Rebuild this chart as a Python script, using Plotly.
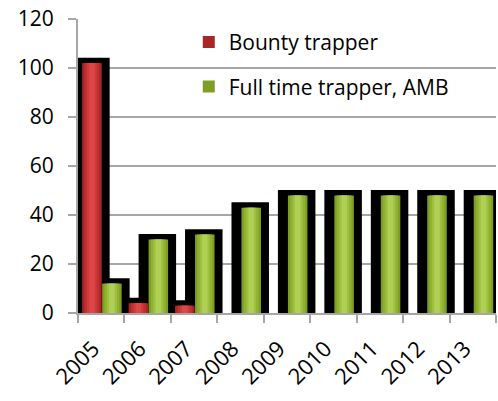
import plotly.graph_objects as go

years = ["2005", "2006", "2007", "2008", "2009", "2010", "2011", "2012", "2013"]
bounty = [102, 4, 3, None, None, None, None, None, None]
fulltime = [12, 30, 32, 43, 48, 48, 48, 48, 48]

name_bounty = "Bounty trapper"
name_full = "Full time trapper, AMB"

FONT = "Open Sans"
BAR_W = 0.42
RED_OFF = -0.41
GREEN_OFF = 0.02
SH_L = 0.2155   # black shadow extension left (category units)
SH_R = 0.172    # black shadow extension right
SH_T = 2.2      # black shadow extension on top (value units)

red_shades = ["#a82626", "#c03030", "#d03a3a", "#dc4848"]
green_shades = ["#7e9f24", "#90b232", "#a0c042", "#b0cf55"]

fig = go.Figure()

def shadow(vals, off, group):
    sv = [None if v is None else v + SH_T for v in vals]
    fig.add_trace(go.Bar(
        x=years, y=sv, offset=off - SH_L, width=BAR_W + SH_L + SH_R,
        marker=dict(color="black", line=dict(width=0)),
        showlegend=False, hoverinfo="skip", legendgroup=group))

def filled(vals, off, shades, name, group):
    fracs = [(0.0, 1.0), (0.12, 0.76), (0.25, 0.5), (0.36, 0.28)]
    for i, (f0, fw) in enumerate(fracs):
        fig.add_trace(go.Bar(
            x=years, y=vals, offset=off + f0 * BAR_W, width=fw * BAR_W,
            marker=dict(color=shades[i], line=dict(width=0)),
            name=name, showlegend=(i == 0), legendgroup=group,
            hoverinfo="skip" if i else None))

shadow(bounty, RED_OFF, "b")
shadow(fulltime, GREEN_OFF, "f")
filled(bounty, RED_OFF, red_shades, name_bounty, "b")
filled(fulltime, GREEN_OFF, green_shades, name_full, "f")

fig.update_layout(
    width=498, height=401,
    margin=dict(l=78, r=2, t=19, b=88, autoexpand=False),
    barmode="overlay",
    paper_bgcolor="white", plot_bgcolor="white",
    font=dict(family=FONT, size=21, color="black"),
    showlegend=True,
    legend=dict(x=0.265, y=0.99, xanchor="left", yanchor="top",
                bgcolor="rgba(0,0,0,0)", font=dict(size=21, family=FONT),
                tracegroupgap=14, itemwidth=30),
    xaxis=dict(type="category", range=[-0.5, 8.5], tickangle=-45,
               tickvals=years, ticktext=[y + "\u00a0\u00a0" for y in years],
               automargin=False, ticklabelstandoff=4,
               showline=True, linecolor="#a6a6a6", linewidth=2,
               ticks="outside", tickson="boundaries", ticklen=8,
               tickcolor="#a6a6a6", tickwidth=2, showgrid=False,
               tickfont=dict(size=22, family=FONT)),
    yaxis=dict(range=[0, 120], dtick=20, showline=True, linecolor="#a6a6a6",
               automargin=False, ticklabelstandoff=10,
               linewidth=2, ticks="outside", ticklen=8, tickcolor="#a6a6a6",
               tickwidth=2, showgrid=True, gridcolor="#a6a6a6", gridwidth=2,
               zeroline=False, tickfont=dict(size=21, family=FONT)),
)

fig.write_html("out.html", config={"displayModeBar": False},
               post_script="document.body.style.margin='0';")
